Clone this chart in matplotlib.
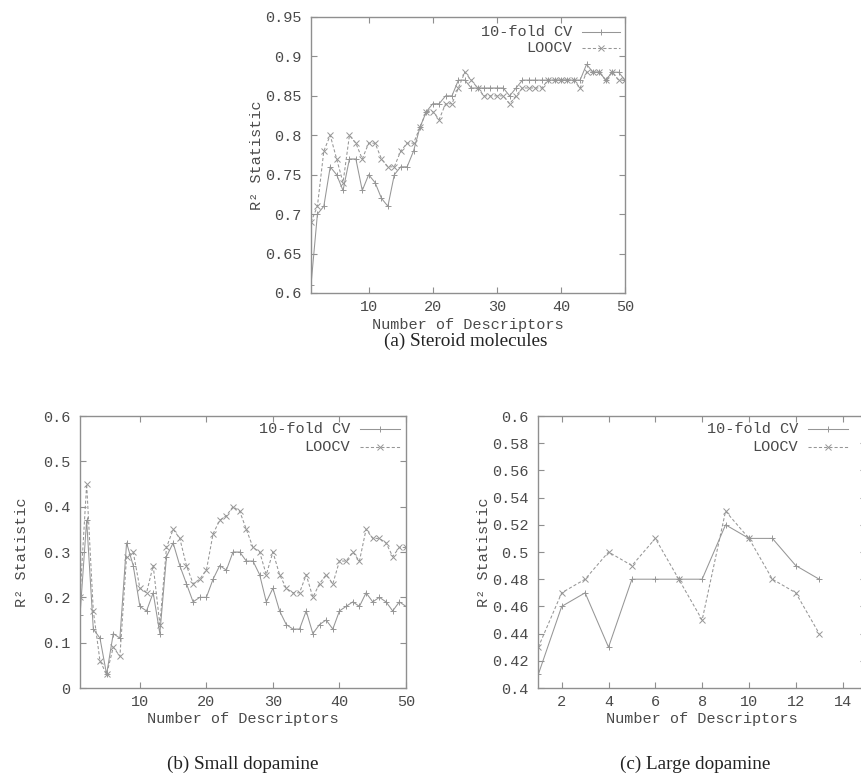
import matplotlib
matplotlib.use("Agg")
import matplotlib.pyplot as plt
from matplotlib.transforms import ScaledTranslation

# ---- data -------------------------------------------------------------
n_steroid = list(range(1, 51))
steroid_10fold = [0.61, 0.70, 0.71, 0.76, 0.75, 0.73, 0.77, 0.77, 0.73, 0.75,
                  0.74, 0.72, 0.71, 0.75, 0.76, 0.76, 0.78, 0.81, 0.83, 0.84,
                  0.84, 0.85, 0.85, 0.87, 0.87, 0.86, 0.86, 0.86, 0.86, 0.86,
                  0.86, 0.85, 0.86, 0.87, 0.87, 0.87, 0.87, 0.87, 0.87, 0.87,
                  0.87, 0.87, 0.87, 0.89, 0.88, 0.88, 0.87, 0.88, 0.88, 0.87]
steroid_loocv = [0.69, 0.71, 0.78, 0.80, 0.77, 0.74, 0.80, 0.79, 0.77, 0.79,
                 0.79, 0.77, 0.76, 0.76, 0.78, 0.79, 0.79, 0.81, 0.83, 0.83,
                 0.82, 0.84, 0.84, 0.86, 0.88, 0.87, 0.86, 0.85, 0.85, 0.85,
                 0.85, 0.84, 0.85, 0.86, 0.86, 0.86, 0.86, 0.87, 0.87, 0.87,
                 0.87, 0.87, 0.86, 0.88, 0.88, 0.88, 0.87, 0.88, 0.87, 0.87]

n_small = list(range(1, 51))
small_10fold = [0.16, 0.37, 0.13, 0.11, 0.03, 0.12, 0.11, 0.32, 0.27, 0.18,
                0.17, 0.21, 0.12, 0.29, 0.32, 0.27, 0.23, 0.19, 0.20, 0.20,
                0.24, 0.27, 0.26, 0.30, 0.30, 0.28, 0.28, 0.25, 0.19, 0.22,
                0.17, 0.14, 0.13, 0.13, 0.17, 0.12, 0.14, 0.15, 0.13, 0.17,
                0.18, 0.19, 0.18, 0.21, 0.19, 0.20, 0.19, 0.17, 0.19, 0.18]
small_loocv = [0.20, 0.45, 0.17, 0.06, 0.03, 0.09, 0.07, 0.29, 0.30, 0.22,
               0.21, 0.27, 0.14, 0.31, 0.35, 0.33, 0.27, 0.23, 0.24, 0.26,
               0.34, 0.37, 0.38, 0.40, 0.39, 0.35, 0.31, 0.30, 0.25, 0.30,
               0.25, 0.22, 0.21, 0.21, 0.25, 0.20, 0.23, 0.25, 0.23, 0.28,
               0.28, 0.30, 0.28, 0.35, 0.33, 0.33, 0.32, 0.29, 0.31, 0.31]

n_large = list(range(1, 14))
large_10fold = [0.41, 0.46, 0.47, 0.43, 0.48, 0.48, 0.48, 0.48, 0.52, 0.51,
                0.51, 0.49, 0.48]
large_loocv = [0.43, 0.47, 0.48, 0.50, 0.49, 0.51, 0.48, 0.45, 0.53, 0.51,
               0.48, 0.47, 0.44]

series_names = ["10-fold CV", "LOOCV"]
x_title = "Number of Descriptors"
y_title = "R\u00b2 Statistic"
captions = ["(a) Steroid molecules", "(b) Small dopamine", "(c) Large dopamine"]

ticks_a_y = [0.6, 0.65, 0.7, 0.75, 0.8, 0.85, 0.9, 0.95]
labels_a_y = ["0.6", "0.65", "0.7", "0.75", "0.8", "0.85", "0.9", "0.95"]
ticks_b_y = [0, 0.1, 0.2, 0.3, 0.4, 0.5, 0.6]
labels_b_y = ["0", "0.1", "0.2", "0.3", "0.4", "0.5", "0.6"]
ticks_c_y = [0.4, 0.42, 0.44, 0.46, 0.48, 0.5, 0.52, 0.54, 0.56, 0.58, 0.6]
labels_c_y = ["0.4", "0.42", "0.44", "0.46", "0.48", "0.5", "0.52", "0.54",
              "0.56", "0.58", "0.6"]
ticks_ab_x = [10, 20, 30, 40, 50]
ticks_c_x = [2, 4, 6, 8, 10, 12, 14]

# ---- style ------------------------------------------------------------
MONO = "Liberation Mono"
SERIF = "Liberation Serif"
LINE = "#969696"
FRAME = "#8f8f8f"
TEXT = "#4a4a4a"
FS = 11

W, H = 861, 776
fig = plt.figure(figsize=(W / 100, H / 100), dpi=100)


def px_rect(left, top, right, bottom):
    return [left / W, (H - bottom) / H, (right - left) / W, (bottom - top) / H]


def style_cv():
    return dict(color=LINE, lw=0.75, marker="+", ms=5, mew=0.7)


def style_loo():
    return dict(color=LINE, lw=0.75, ls=(0, (3, 2)), marker="x", ms=4, mew=0.7)


def panel(rect, x, cv, loo, xlim, xticks, ylim, yticks, ylabels,
          ylab_dx, xlab_dy, key_text_dx, key_line, key_rows):
    ax = fig.add_axes(rect)
    ax.plot(x, cv, **style_cv())
    ax.plot(x, loo, **style_loo())
    ax.set_xlim(*xlim)
    ax.set_ylim(*ylim)
    ax.set_xticks(xticks)
    ax.set_xticklabels([str(t) for t in xticks])
    ax.set_yticks(yticks)
    ax.set_yticklabels(ylabels)
    ax.tick_params(direction="in", length=4, width=0.8, color=FRAME,
                   top=True, right=True, labelcolor=TEXT, labelsize=FS)
    ax.tick_params(axis="y", pad=7)
    ax.tick_params(axis="x", pad=5)
    for lab in ax.get_xticklabels() + ax.get_yticklabels():
        lab.set_family(MONO)
    for s in ax.spines.values():
        s.set_color(FRAME)
        s.set_linewidth(1.0)

    bbox_w = rect[2] * W
    bbox_h = rect[3] * H
    ax.text(ylab_dx / bbox_w, 0.5, y_title, transform=ax.transAxes,
            rotation=90, ha="center", va="center", family=MONO,
            fontsize=FS, color=TEXT)
    ax.text(0.5, xlab_dy / bbox_h, x_title, transform=ax.transAxes,
            ha="center", va="center", family=MONO, fontsize=FS, color=TEXT)

    # key in the upper right corner, text right-justified, sample on the right
    styles = [style_cv(), style_loo()]
    for name, st, dy in zip(series_names, styles, key_rows):
        off = ScaledTranslation(0, dy / 100, fig.dpi_scale_trans)
        tr = ax.transAxes + off
        ax.text(1 + key_text_dx / bbox_w, 1, name, transform=tr, ha="right",
                va="center", family=MONO, fontsize=FS, color=TEXT)
        x0 = 1 + key_line[0] / bbox_w
        x1 = 1 + key_line[1] / bbox_w
        line_st = {k: v for k, v in st.items() if k not in ("marker", "ms", "mew")}
        ax.plot([x0, x1], [1, 1], transform=tr, clip_on=False, **line_st)
        ax.plot([(x0 + x1) / 2], [1], transform=tr, clip_on=False,
                color=st["color"], ls="none", marker=st["marker"],
                ms=st["ms"], mew=st["mew"])
    return ax


# (a) steroid molecules
panel(px_rect(311, 17, 625, 293), n_steroid, steroid_10fold, steroid_loocv,
      (1, 50), ticks_ab_x, (0.6, 0.95), ticks_a_y, labels_a_y,
      ylab_dx=257 - 311, xlab_dy=-(325 - 293), key_text_dx=572 - 625,
      key_line=(582 - 625, 620 - 625), key_rows=(-14.7, -31.3))

# (b) small dopamine
panel(px_rect(80, 416, 406, 688), n_small, small_10fold, small_loocv,
      (1, 50), ticks_ab_x, (0, 0.6), ticks_b_y, labels_b_y,
      ylab_dx=22 - 80, xlab_dy=-(719 - 688), key_text_dx=350 - 406,
      key_line=(360 - 406, 400 - 406), key_rows=(-13, -31))

# (c) large dopamine
panel(px_rect(538.3, 416, 866, 688), n_large, large_10fold, large_loocv,
      (1, 15), ticks_c_x, (0.4, 0.6), ticks_c_y, labels_c_y,
      ylab_dx=484 - 538, xlab_dy=-(719 - 688), key_text_dx=798 - 866,
      key_line=(808 - 866, 848 - 866), key_rows=(-13, -31))

for text, cx, cy in zip(captions, (466, 243, 695), (341, 764, 764)):
    fig.text(cx / W, 1 - cy / H, text, ha="center", va="center",
             family=SERIF, fontsize=13.8, color="#222222")

fig.savefig("out.png", dpi=100, facecolor="white")
